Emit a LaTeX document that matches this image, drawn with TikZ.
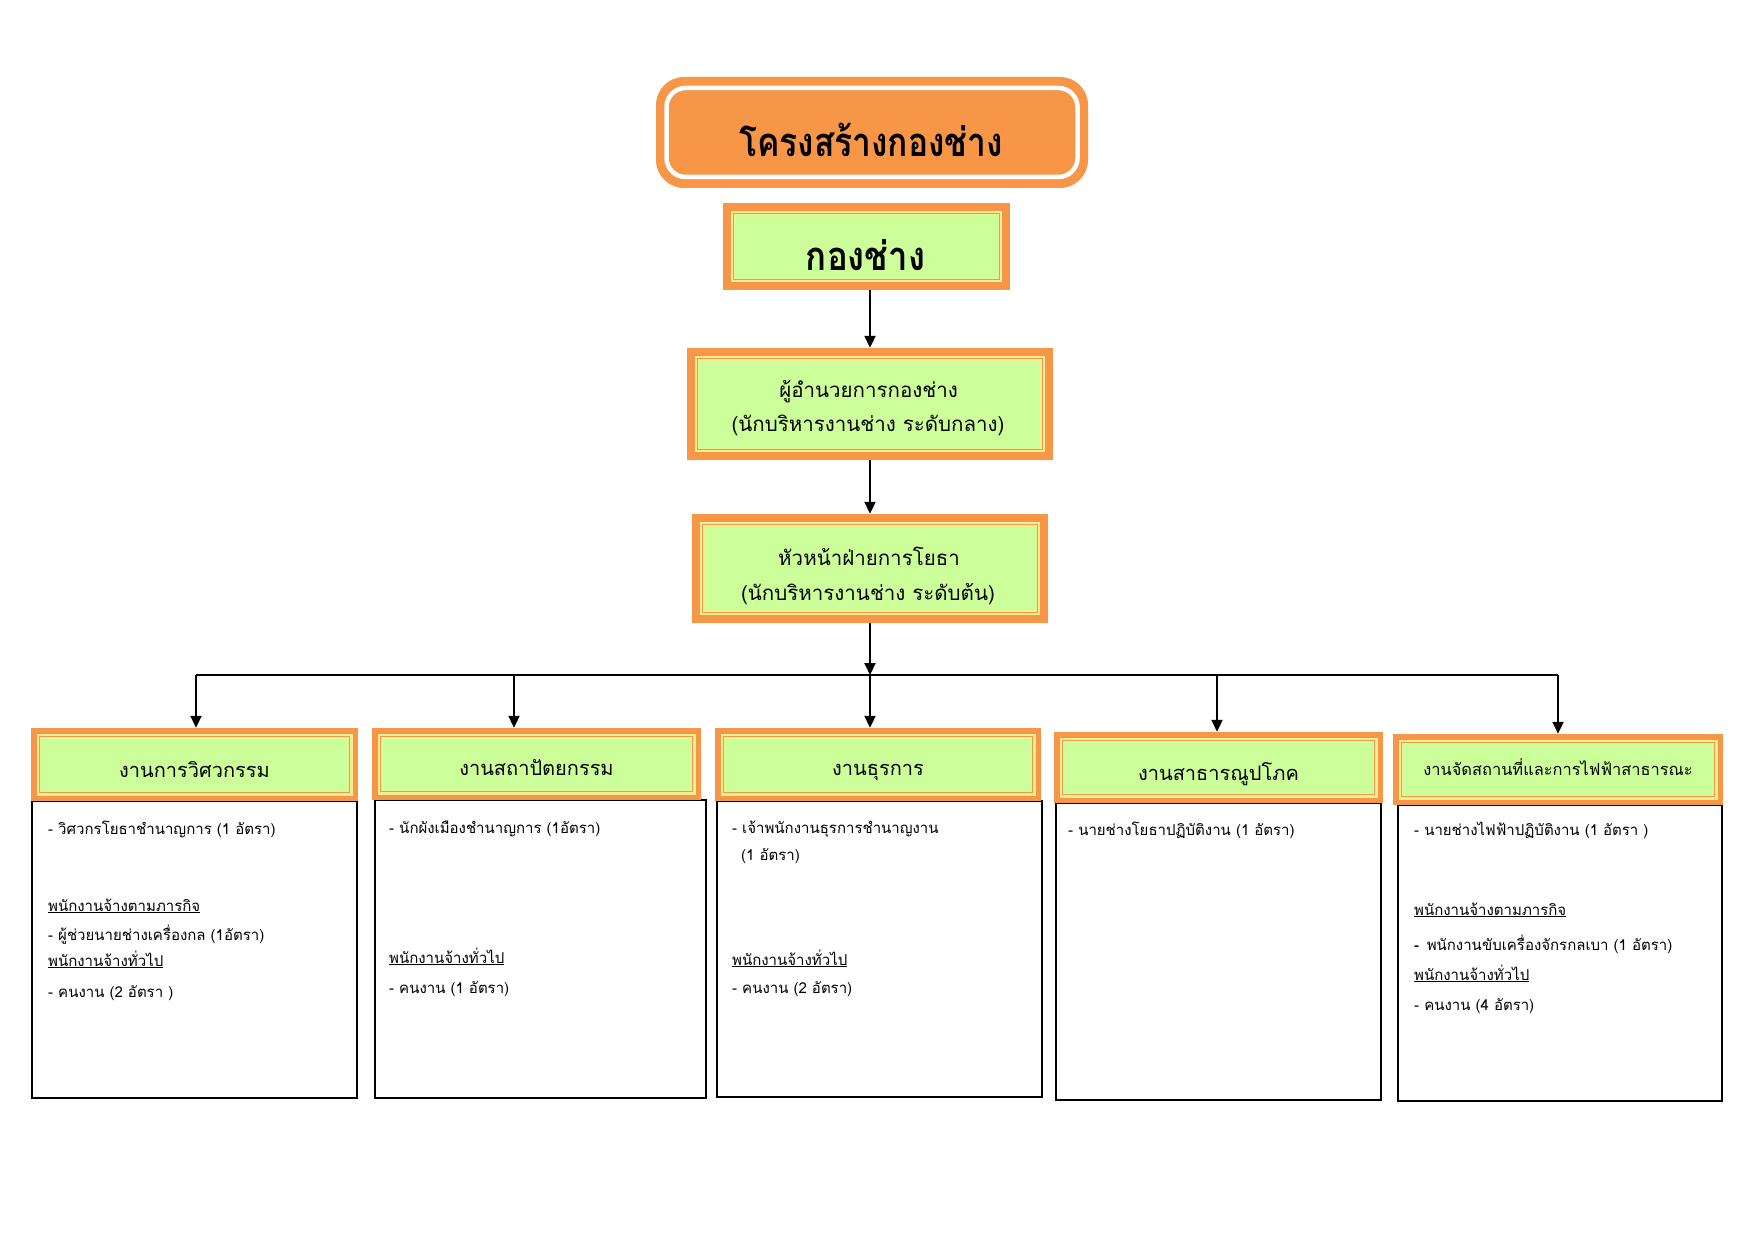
\documentclass[tikz,border=0pt]{standalone}
\usepackage{fontspec}
\setmainfont[Script=Thai]{Loma}
\newfontfamily\titlefont[Script=Thai, FakeStretch=0.84]{Loma}
\newfontfamily\divfont[Script=Thai, FakeStretch=0.87]{Loma}
\usetikzlibrary{arrows.meta,calc}
\definecolor{orangeC}{HTML}{F79646}
\definecolor{greenC}{HTML}{CCFF99}
\definecolor{paleY}{HTML}{ECF294}
\tikzset{
  gbox/.style={rectangle, fill=orangeC, inner sep=0pt, path picture={
    \fill[paleY] ([shift={(#1,-#1)}]path picture bounding box.north west) rectangle ([shift={(-#1,#1)}]path picture bounding box.south east);
    \fill[orangeC] ([shift={(#1+2.4pt,-#1-2.4pt)}]path picture bounding box.north west) rectangle ([shift={(-#1-2.4pt,#1+2.4pt)}]path picture bounding box.south east);
    \fill[paleY] ([shift={(#1+3.4pt,-#1-3.4pt)}]path picture bounding box.north west) rectangle ([shift={(-#1-3.4pt,#1+3.4pt)}]path picture bounding box.south east);
    \fill[greenC] ([shift={(#1+4.8pt,-#1-4.8pt)}]path picture bounding box.north west) rectangle ([shift={(-#1-4.8pt,#1+4.8pt)}]path picture bounding box.south east);
  }},
  gbox/.default=8pt,
  titlebox/.style={rectangle, fill=orangeC, inner sep=0pt, rounded corners=28pt, path picture={
    \draw[white, line width=4.5pt, rounded corners=19pt] ([shift={(10.5pt,-11pt)}]path picture bounding box.north west) rectangle ([shift={(-10.5pt,11pt)}]path picture bounding box.south east);
  }},
  bodybox/.style={rectangle, draw=black, line width=1.5pt, fill=white, inner sep=0pt},
  arr/.style={line width=2pt, -{Triangle[length=12pt,width=11pt]}},
  bus/.style={line width=2pt},
  ttltext/.style={anchor=base, inner sep=0pt, font=\titlefont\fontsize{40}{48}\selectfont\bfseries},
  gtext/.style={anchor=base, inner sep=0pt, font=\divfont\fontsize{40}{48}\selectfont\bfseries},
  mtext/.style={anchor=base, inner sep=0pt, font=\fontsize{20.5}{25}\selectfont},
  htext/.style={anchor=base, inner sep=0pt, font=\fontsize{20}{24}\selectfont},
  hstext/.style={anchor=base, inner sep=0pt, font=\fontsize{16.4}{20}\selectfont},
  btext/.style={anchor=base west, inner sep=0pt, font=\fontsize{15}{18}\selectfont},
}
\begin{document}
\begin{tikzpicture}[x=1pt, y=-1pt]
\useasboundingbox (0,0) rectangle (1755,1241);
% title
\node[titlebox, minimum width=432pt, minimum height=111pt] (title) at (872,132.5) {};
\node[ttltext] (titleT) at (871,157) {โครงสร้างกองช่าง};
% division
\node[gbox, minimum width=287pt, minimum height=87pt] (g) at (866.5,246.5) {};
\node[gtext] (gT) at (865.5,270) {กองช่าง};
% director
\node[gbox, minimum width=366pt, minimum height=112pt] (d) at (870,404) {};
\node[mtext] (dT1) at (868.5,397) {ผู้อำนวยการกองช่าง};
\node[mtext] (dT2) at (868,431) {(นักบริหารงานช่าง ระดับกลาง)};
% head
\node[gbox, minimum width=356pt, minimum height=109pt] (h) at (870,568.5) {};
\node[mtext] (hT1) at (869,565) {หัวหน้าฝ่ายการโยธา};
\node[mtext] (hT2) at (868,600) {(นักบริหารงานช่าง ระดับต้น)};
% bodies
\node[bodybox, minimum width=325pt, minimum height=297pt] (b1) at (194.5,949.5) {};
\node[bodybox, minimum width=331pt, minimum height=298pt] (b2) at (540.5,949) {};
\node[bodybox, minimum width=325pt, minimum height=296pt] (b3) at (879.5,949) {};
\node[bodybox, minimum width=325pt, minimum height=297pt] (b4) at (1218.5,951.5) {};
\node[bodybox, minimum width=324pt, minimum height=296pt] (b5) at (1560,953) {};
% headers
\node[gbox=5.5pt, minimum width=327pt, minimum height=73pt] (s1) at (194.5,764.5) {};
\node[gbox=5.5pt, minimum width=329pt, minimum height=72pt] (s2) at (536.5,764) {};
\node[gbox=5.5pt, minimum width=326pt, minimum height=73pt] (s3) at (878,764.5) {};
\node[gbox=5.5pt, minimum width=329pt, minimum height=71pt] (s4) at (1218.5,767.5) {};
\node[gbox=5.5pt, minimum width=330pt, minimum height=71pt] (s5) at (1558,769.5) {};
\node[htext] (s1T) at (194.5,777) {งานการวิศวกรรม};
\node[htext] (s2T) at (536.5,775) {งานสถาปัตยกรรม};
\node[htext] (s3T) at (878,775) {งานธุรการ};
\node[htext] (s4T) at (1218.5,780) {งานสาธารณูปโภค};
\node[hstext] (s5T) at (1558,775) {งานจัดสถานที่และการไฟฟ้าสาธารณะ};
% connectors
\draw[arr] (g.south -| d.north) -- (d.north);
\draw[arr] (d.south) -- (h.north);
\coordinate (c1) at (196,675);
\coordinate (c2) at (514,675);
\coordinate (c3) at (870,675);
\coordinate (c4) at (1217,675);
\coordinate (c5) at (1558,675);
\draw[bus] (c1) -- (c5);
\draw[arr] (h.south) -- (c3);
\draw[arr] (c1) -- (c1 |- s1.north);
\draw[arr] (c2) -- (c2 |- s2.north);
\draw[arr] (c3) -- (c3 |- s3.north);
\draw[arr] (c4) -- (c4 |- s4.north);
\draw[arr] (c5) -- (c5 |- s5.north);
% body texts
\node[btext] (t11) at (48,834) {- วิศวกรโยธาชำนาญการ (1 อัตรา)};
\node[btext] (t12) at (48,911) {\underline{พนักงานจ้างตามภารกิจ}};
\node[btext] (t13) at (48,940) {- ผู้ช่วยนายช่างเครื่องกล (1อัตรา)};
\node[btext] (t14) at (48,966) {\underline{พนักงานจ้างทั่วไป}};
\node[btext] (t15) at (48,997) {- คนงาน (2 อัตรา )};
\node[btext] (t21) at (389,833) {- นักผังเมืองชำนาญการ (1อัตรา)};
\node[btext] (t22) at (389,963) {\underline{พนักงานจ้างทั่วไป}};
\node[btext] (t23) at (389,993) {- คนงาน (1 อัตรา)};
\node[btext] (t31) at (732,833) {- เจ้าพนักงานธุรการชำนาญงาน};
\node[btext] (t32) at (741,860) {(1 อัตรา)};
\node[btext] (t33) at (732,965) {\underline{พนักงานจ้างทั่วไป}};
\node[btext] (t34) at (732,993) {- คนงาน (2 อัตรา)};
\node[btext] (t41) at (1068,835) {- นายช่างโยธาปฏิบัติงาน (1 อัตรา)};
\node[btext] (t51) at (1414,835) {- นายช่างไฟฟ้าปฏิบัติงาน (1 อัตรา )};
\node[btext] (t52) at (1414,915) {\underline{พนักงานจ้างตามภารกิจ}};
\node[btext] (t53) at (1414,950) {{\bfseries -}\, พนักงานขับเครื่องจักรกลเบา (1 อัตรา)};
\node[btext] (t54) at (1414,980) {\underline{พนักงานจ้างทั่วไป}};
\node[btext] (t55) at (1414,1010) {- คนงาน (4 อัตรา)};
\end{tikzpicture}
\end{document}
